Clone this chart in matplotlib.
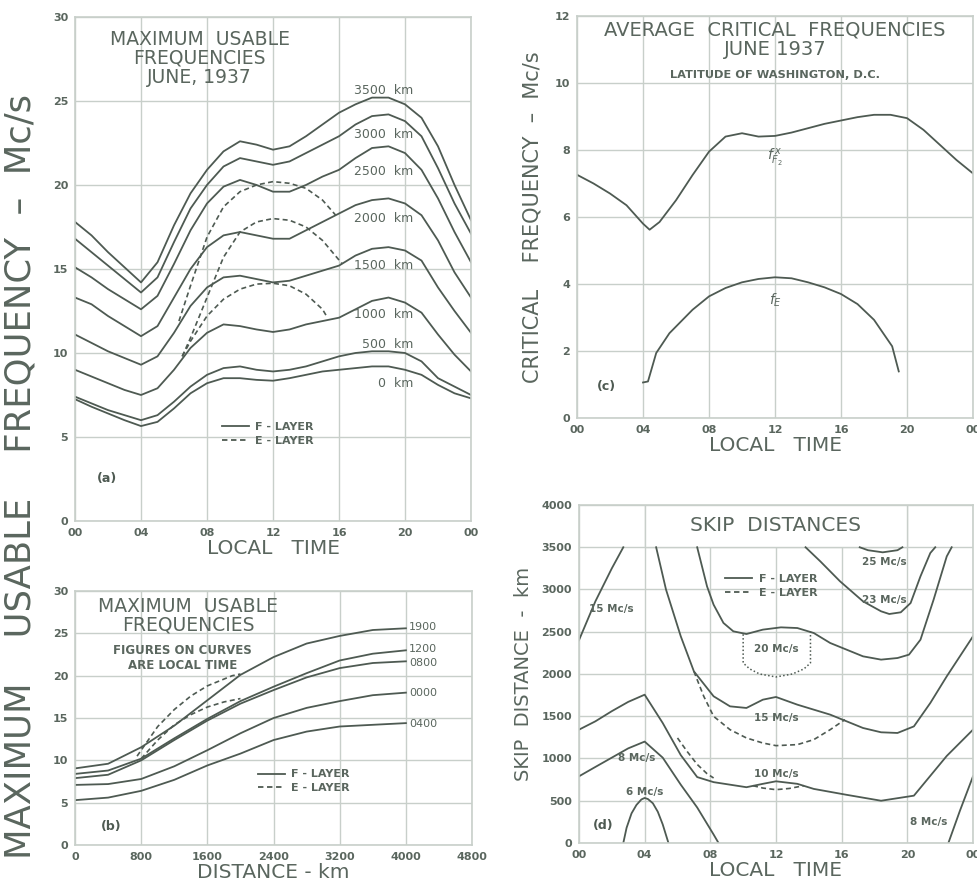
import matplotlib.pyplot as plt
from matplotlib.patches import Rectangle
from matplotlib.lines import Line2D

plt.rcParams['font.family'] = ['DejaVu Sans']

INK = '#4e5a52'
GRID = '#c8cfca'
TXT = '#5a665e'

# ---------- (a) maximum usable frequency vs local time ----------
hours = list(range(25))
muf_labels = ['3500  km', '3000  km', '2500  km', '2000  km', '1500  km', '1000  km', '500  km', '0  km']
muf_3500 = [17.8, 17.0, 16.0, 15.1, 14.2, 15.4, 17.6, 19.5, 20.9, 22.0, 22.6, 22.4, 22.1,
            22.3, 22.9, 23.6, 24.3, 24.8, 25.2, 25.2, 24.8, 24.0, 22.3, 20.0, 17.9]
muf_3000 = [16.8, 16.0, 15.2, 14.4, 13.6, 14.5, 16.6, 18.6, 20.0, 21.1, 21.6, 21.4, 21.2,
            21.4, 21.9, 22.4, 22.9, 23.6, 24.1, 24.2, 23.8, 22.9, 21.0, 18.9, 17.1]
muf_2500 = [15.1, 14.5, 13.8, 13.2, 12.6, 13.4, 15.3, 17.3, 18.9, 19.9, 20.3, 20.0, 19.6,
            19.6, 20.0, 20.5, 20.9, 21.6, 22.2, 22.3, 21.9, 20.9, 19.2, 17.2, 15.4]
muf_2000 = [13.3, 12.9, 12.2, 11.6, 11.0, 11.6, 13.3, 15.0, 16.3, 17.0, 17.2, 17.0, 16.8,
            16.8, 17.3, 17.8, 18.3, 18.8, 19.1, 19.2, 18.9, 18.2, 16.7, 14.8, 13.3]
muf_1500 = [11.1, 10.6, 10.1, 9.7, 9.3, 9.8, 11.2, 12.8, 13.9, 14.5, 14.6, 14.4, 14.2,
            14.3, 14.6, 14.9, 15.2, 15.8, 16.2, 16.3, 16.1, 15.5, 13.9, 12.5, 11.2]
muf_1000 = [9.0, 8.6, 8.2, 7.8, 7.5, 7.9, 9.0, 10.3, 11.2, 11.7, 11.6, 11.4, 11.25,
            11.4, 11.7, 11.9, 12.1, 12.6, 13.1, 13.3, 13.0, 12.4, 11.1, 9.9, 8.9]
muf_500 = [7.4, 7.0, 6.6, 6.3, 6.0, 6.3, 7.1, 8.0, 8.7, 9.1, 9.2, 9.0, 8.9,
           9.0, 9.2, 9.5, 9.8, 10.0, 10.1, 10.1, 10.0, 9.5, 8.5, 8.0, 7.5]
muf_0 = [7.25, 6.8, 6.4, 6.0, 5.65, 5.9, 6.7, 7.6, 8.2, 8.5, 8.5, 8.4, 8.35,
         8.5, 8.7, 8.9, 9.0, 9.1, 9.2, 9.2, 9.0, 8.7, 8.1, 7.6, 7.3]
muf_label_pos = [25.65, 23.0, 20.8, 18.0, 15.2, 12.3, 10.5, 8.2]

e1_hours = [6.3, 7, 8, 9, 10, 11, 12, 13, 14, 15, 15.8]
e1_muf = [11.9, 14.0, 16.9, 18.7, 19.6, 20.0, 20.2, 20.1, 19.8, 19.1, 18.2]
e2_hours = [6.5, 7, 8, 9, 10, 11, 12, 13, 14, 15, 16.2]
e2_muf = [9.8, 10.9, 13.3, 15.7, 17.2, 17.8, 18.0, 17.9, 17.5, 16.7, 15.3]
e3_hours = [6.5, 7, 8, 9, 10, 11, 12, 13, 14, 15, 15.3]
e3_muf = [9.8, 10.7, 12.2, 13.2, 13.8, 14.1, 14.15, 14.0, 13.5, 12.6, 12.1]

# ---------- (b) maximum usable frequency vs distance ----------
dist = [0, 400, 800, 1200, 1600, 2000, 2400, 2800, 3200, 3600, 4000]
dist_labels = ['1900', '1200', '0800', '0000', '0400']
dist_label_pos = [25.8, 23.2, 21.5, 18.0, 14.3]
mufd_1900 = [9.05, 9.6, 11.55, 14.1, 17.1, 20.1, 22.2, 23.8, 24.7, 25.4, 25.6]
mufd_1200 = [8.4, 8.8, 10.2, 12.6, 14.9, 17.0, 18.7, 20.3, 21.8, 22.6, 23.0]
mufd_0800 = [7.9, 8.3, 10.0, 12.4, 14.7, 16.7, 18.3, 19.8, 20.9, 21.5, 21.7]
mufd_0000 = [7.1, 7.2, 7.8, 9.3, 11.2, 13.2, 15.0, 16.2, 17.0, 17.7, 18.0]
mufd_0400 = [5.3, 5.6, 6.4, 7.7, 9.4, 10.8, 12.4, 13.4, 14.0, 14.2, 14.4]
eb1_dist = [750, 1000, 1200, 1400, 1600, 1800, 1900, 2000]
eb1_muf = [10.5, 14.0, 16.0, 17.6, 18.8, 19.6, 20.0, 20.2]
eb2_dist = [800, 1000, 1200, 1400, 1600, 1800, 2000]
eb2_muf = [10.2, 12.4, 14.2, 15.4, 16.3, 16.9, 17.3]

# ---------- (c) critical frequencies ----------
fF2_hours = [0, 1, 2, 3, 4, 4.4, 5, 6, 7, 8, 9, 10, 11, 12, 13, 14, 15, 16, 17, 18, 19, 20, 21, 22, 23, 24]
fF2 = [7.26, 7.0, 6.7, 6.35, 5.8, 5.62, 5.85, 6.5, 7.25, 7.95, 8.4, 8.5, 8.4, 8.42, 8.52,
       8.65, 8.78, 8.88, 8.98, 9.05, 9.05, 8.95, 8.6, 8.15, 7.7, 7.3]
fE_hours = [4.0, 4.3, 4.8, 5.6, 7, 8, 9, 10, 11, 12, 13, 14, 15, 16, 17, 18, 19.1, 19.5]
fE = [1.06, 1.09, 1.94, 2.53, 3.23, 3.63, 3.88, 4.05, 4.15, 4.2, 4.17, 4.05, 3.9, 3.7,
      3.4, 2.93, 2.14, 1.39]

# ---------- (d) skip distances ----------
s15a_h = [0, 1, 2, 2.7]
s15a_d = [2400, 2860, 3250, 3500]
s15_h = [4.7, 5.3, 6.2, 7, 8.2, 9.2, 10.2, 11.2, 12, 13.3, 14.3, 15.3, 16.3, 17.3, 18.4,
         19.4, 20.4, 21.4, 22.4, 24]
s15_d = [3500, 3000, 2446, 2031, 1736, 1617, 1598, 1696, 1728, 1637, 1578, 1519, 1440,
         1361, 1310, 1302, 1380, 1657, 1972, 2446]
s20_h = [7.2, 7.8, 8.2, 8.8, 9.4, 10.2, 11.2, 12.3, 13.3, 14.3, 15.3, 16.3, 17.3, 18.4,
         19.4, 20.1, 20.8, 21.6, 22.4, 22.7]
s20_d = [3500, 3037, 2820, 2604, 2505, 2473, 2525, 2552, 2544, 2485, 2367, 2288, 2209,
         2170, 2189, 2229, 2406, 2880, 3392, 3500]
s23_h = [13.8, 14.7, 15.9, 17.3, 18.4, 18.9, 19.6, 20.2, 20.8, 21.4, 21.7]
s23_d = [3500, 3333, 3097, 2860, 2742, 2710, 2730, 2840, 3156, 3432, 3500]
s25_h = [17.1, 17.6, 18.5, 19.4, 19.7]
s25_d = [3500, 3465, 3440, 3465, 3500]
s10_h = [0, 1, 2, 3, 4, 5.1, 6.2, 7.2, 8.2, 9.2, 10.2, 11.2, 12, 13.3, 14.3, 16.3,
         18.4, 20.4, 22.4, 24]
s10_d = [1341, 1440, 1560, 1670, 1755, 1420, 1040, 780, 720, 690, 660, 700, 730, 700,
         640, 570, 500, 560, 1030, 1341]
s8_h = [0, 1, 2, 3, 4, 5.1, 6.2, 7.2, 8.2, 8.5]
s8_d = [789, 900, 1010, 1120, 1200, 1010, 690, 420, 100, 0]
s8b_h = [22.5, 23.2, 24]
s8b_d = [0, 380, 789]
s6_h = [2.7, 2.9, 3.2, 3.5, 3.8, 4.0, 4.2, 4.5, 4.8, 5.1, 5.45]
s6_d = [0, 180, 350, 450, 515, 533, 520, 470, 370, 220, 0]
e15_h = [7, 7.6, 8.2, 9.2, 10.2, 11.2, 12, 13.3, 14.3, 15.3, 16.2]
e15_d = [2031, 1736, 1499, 1341, 1243, 1183, 1152, 1164, 1223, 1341, 1460]
e10a_h = [6.0, 6.6, 7.2, 7.8, 8.2]
e10a_d = [1243, 1080, 930, 820, 769]
e10b_h = [10.6, 11.2, 12, 12.8, 13.7]
e10b_d = [678, 650, 631, 645, 678]
e20_h = [10, 10, 10.4, 11, 12, 13, 13.7, 14.1, 14.1]
e20_d = [2470, 2130, 2060, 2000, 1965, 2000, 2060, 2130, 2505]

fig = plt.figure(figsize=(9.78, 8.88), dpi=100)


def style(ax):
    ax.set_axisbelow(True)
    ax.grid(True, color=GRID, lw=1.0)
    for s in ax.spines.values():
        s.set_color(GRID)
        s.set_linewidth(1.2)
    ax.tick_params(length=0, colors=TXT, labelsize=8, pad=5)
    for t in ax.get_xticklabels() + ax.get_yticklabels():
        t.set_fontweight('bold')


def layer_legend(ax, anchor):
    h = [Line2D([], [], color=INK, lw=1.3), Line2D([], [], color=INK, lw=1.3, ls=(0, (3, 2)))]
    lg = ax.legend(h, ['F - LAYER', 'E - LAYER'], loc='upper left', bbox_to_anchor=anchor,
                   frameon=False, handlelength=2.4, handletextpad=0.6, labelspacing=0.35,
                   prop={'size': 8, 'weight': 'bold'}, borderaxespad=0)
    for t in lg.get_texts():
        t.set_color(TXT)


hour_ticks = [0, 4, 8, 12, 16, 20, 24]
hour_labels = ['00', '04', '08', '12', '16', '20', '00']

# (a)
ax = fig.add_axes([0.0767, 0.4133, 0.4049, 0.5676])
for vals in [muf_3500, muf_3000, muf_2500, muf_2000, muf_1500, muf_1000, muf_500, muf_0]:
    ax.plot(hours, vals, color=INK, lw=1.3)
for hh, vv in [(e1_hours, e1_muf), (e2_hours, e2_muf), (e3_hours, e3_muf)]:
    ax.plot(hh, vv, color=INK, lw=1.2, ls=(0, (3, 2)))
for lab, yy in zip(muf_labels, muf_label_pos):
    ax.text(20.5, yy, lab, ha='right', va='center', fontsize=9, color=TXT)
ax.set_xlim(0, 24)
ax.set_ylim(0, 30)
ax.set_xticks(hour_ticks, hour_labels)
ax.set_yticks(range(0, 31, 5))
style(ax)
ax.set_xlabel('LOCAL   TIME', fontsize=14.5, color=TXT, labelpad=1)
ax.text(0.315, 0.975, 'MAXIMUM  USABLE\nFREQUENCIES\nJUNE, 1937', transform=ax.transAxes,
        ha='center', va='top', fontsize=13.5, color=TXT, linespacing=1.0)
ax.text(0.055, 0.077, '(a)', transform=ax.transAxes, fontsize=9, fontweight='bold', color=INK)
layer_legend(ax, (0.36, 0.205))

# (b)
ax = fig.add_axes([0.0767, 0.0484, 0.406, 0.2860])
for vals in [mufd_1900, mufd_1200, mufd_0800, mufd_0000, mufd_0400]:
    ax.plot(dist, vals, color=INK, lw=1.3)
for dd, vv in [(eb1_dist, eb1_muf), (eb2_dist, eb2_muf)]:
    ax.plot(dd, vv, color=INK, lw=1.2, ls=(0, (3, 2)))
for lab, yy in zip(dist_labels, dist_label_pos):
    ax.text(dist[-1] + 40, yy, lab, ha='left', va='center', fontsize=8, color=TXT)
ax.set_xlim(0, 4800)
ax.set_ylim(0, 30)
ax.set_xticks(range(0, 4801, 800))
ax.set_yticks(range(0, 31, 5))
style(ax)
ax.set_xlabel('DISTANCE - km', fontsize=14.5, color=TXT, labelpad=1)
ax.text(0.285, 0.975, 'MAXIMUM  USABLE\nFREQUENCIES', transform=ax.transAxes,
        ha='center', va='top', fontsize=13.5, color=TXT, linespacing=0.95)
ax.text(0.27, 0.79, 'FIGURES ON CURVES\nARE LOCAL TIME', transform=ax.transAxes,
        ha='center', va='top', fontsize=8.5, fontweight='bold', color=TXT, linespacing=1.2)
ax.text(0.065, 0.06, '(b)', transform=ax.transAxes, fontsize=9, fontweight='bold', color=INK)
layer_legend(ax, (0.45, 0.315))

# big shared y label
fig.text(0.021, 0.463, 'MAXIMUM    USABLE    FREQUENCY  –  Mc/s', rotation=90,
         ha='center', va='center', fontsize=25.5, color=TXT)

# (c)
ax = fig.add_axes([0.590, 0.5293, 0.4049, 0.4527])
ax.plot(fF2_hours, fF2, color=INK, lw=1.3)
ax.plot(fE_hours, fE, color=INK, lw=1.3)
ax.text(12, 7.8, r'$f^{\,x}_{F_2}$', ha='center', va='center', fontsize=10, color=TXT)
ax.text(12, 3.5, r'$f_{E}$', ha='center', va='center', fontsize=10, color=TXT)
ax.set_xlim(0, 24)
ax.set_ylim(0, 12)
ax.set_xticks(hour_ticks, hour_labels)
ax.set_yticks(range(0, 13, 2))
style(ax)
ax.set_xlabel('LOCAL   TIME', fontsize=14.5, color=TXT, labelpad=1)
ax.set_ylabel('CRITICAL    FREQUENCY  –  Mc/s', fontsize=15, color=TXT, labelpad=9)
ax.text(0.5, 0.99, 'AVERAGE  CRITICAL  FREQUENCIES', transform=ax.transAxes,
        ha='center', va='top', fontsize=14, color=TXT)
ax.text(0.5, 0.94, 'JUNE 1937', transform=ax.transAxes,
        ha='center', va='top', fontsize=14, color=TXT)
ax.text(0.5, 0.865, 'LATITUDE OF WASHINGTON, D.C.', transform=ax.transAxes,
        ha='center', va='top', fontsize=8.2, fontweight='bold', color=TXT)
ax.text(0.05, 0.07, '(c)', transform=ax.transAxes, fontsize=9, fontweight='bold', color=INK)

# (d)
ax = fig.add_axes([0.592, 0.0507, 0.4029, 0.3806])
for hh, dd in [(s15a_h, s15a_d), (s15_h, s15_d), (s20_h, s20_d), (s23_h, s23_d), (s25_h, s25_d),
               (s10_h, s10_d), (s8_h, s8_d), (s8b_h, s8b_d), (s6_h, s6_d)]:
    ax.plot(hh, dd, color=INK, lw=1.3)
for hh, dd in [(e15_h, e15_d), (e10a_h, e10a_d), (e10b_h, e10b_d)]:
    ax.plot(hh, dd, color=INK, lw=1.2, ls=(0, (3, 2)))
ax.plot(e20_h, e20_d, color=INK, lw=1.1, ls=(0, (1, 1.5)))
ax.add_patch(Rectangle((4, 3500), 16, 500, facecolor='white', edgecolor=GRID, lw=1.0, zorder=1))
ax.text(12, 3760, 'SKIP  DISTANCES', ha='center', va='center', fontsize=14.5, color=TXT, zorder=3)
mc_labels = [(2.0, 2770, '15 Mc/s'), (12, 2300, '20 Mc/s'), (12, 1480, '15 Mc/s'),
             (12, 820, '10 Mc/s'), (3.5, 1000, '8 Mc/s'), (4.0, 600, '6 Mc/s'),
             (18.6, 2880, '23 Mc/s'), (18.6, 3330, '25 Mc/s'), (21.3, 250, '8 Mc/s')]
for xx, yy, lab in mc_labels:
    ax.text(xx, yy, lab, ha='center', va='center', fontsize=7.5, fontweight='bold', color=TXT)
ax.set_xlim(0, 24)
ax.set_ylim(0, 4000)
ax.set_xticks(hour_ticks, hour_labels)
ax.set_yticks(range(0, 4001, 500))
style(ax)
ax.set_xlabel('LOCAL   TIME', fontsize=14.5, color=TXT, labelpad=1)
ax.set_ylabel('SKIP  DISTANCE  -  km', fontsize=14, color=TXT, labelpad=6)
ax.text(0.035, 0.04, '(d)', transform=ax.transAxes, fontsize=9, fontweight='bold', color=INK)
layer_legend(ax, (0.36, 0.81))

fig.savefig('out.png', dpi=100, facecolor='white')
